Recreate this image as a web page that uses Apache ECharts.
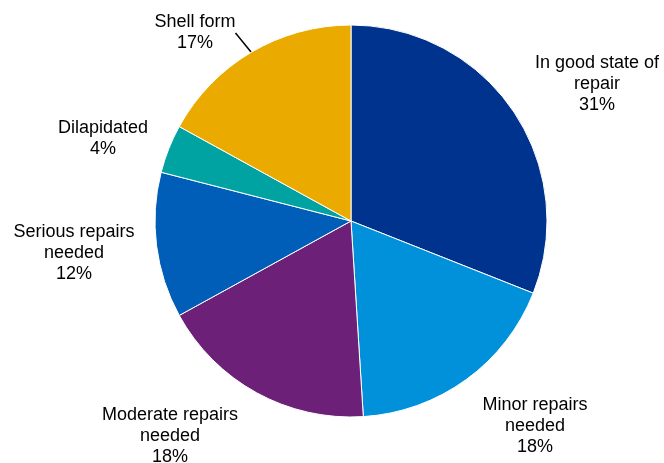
<!DOCTYPE html>
<html>
<head>
<meta charset="utf-8">
<script src="https://cdn.jsdelivr.net/npm/echarts@6/dist/echarts.min.js"></script>
<style>
  html, body { margin: 0; padding: 0; background: #fff; }
  #chart { width: 664px; height: 463px; }
</style>
</head>
<body>
<div id="chart"></div>
<script>
// condition of dwellings, share of stock
var categories = ['In good state of\nrepair', 'Minor repairs\nneeded', 'Moderate repairs\nneeded',
  'Serious repairs\nneeded', 'Dilapidated', 'Shell form'];
var shares = [31, 18, 18, 12, 4, 17];
var colors = ['#00338D', '#0091DA', '#6D2077', '#005EB8', '#00A3A1', '#EAAA00'];

// where each label sits (centre of text block), by slice order
var labelSpots = [[597, 84], [535, 426], [170, 436], [74, 253], [103, 139], [195, 33]];

var myChart = echarts.init(document.getElementById('chart'));
myChart.setOption({
  animation: false,
  series: [{
    type: 'pie',
    center: [351, 221],
    radius: 196,
    startAngle: 90,
    clockwise: true,
    data: categories.map(function (c, i) {
      return {
        name: c, value: shares[i],
        itemStyle: { color: colors[i] },
        labelLine: { show: i === 5 }
      };
    }),
    itemStyle: { borderColor: '#fff', borderWidth: 1 },
    label: {
      show: true,
      position: 'outside',
      formatter: '{b}\n{c}%',
      color: '#000',
      fontFamily: 'Liberation Sans, Arial, sans-serif',
      fontSize: 18,
      lineHeight: 21,
      align: 'center'
    },
    labelLine: { lineStyle: { color: '#000', width: 1.5 }, length: 8, length2: 0 },
    labelLayout: function (p) {
      var s = labelSpots[p.dataIndex];
      return { x: s[0], y: s[1], align: 'center', verticalAlign: 'middle' };
    },
    emphasis: { disabled: true }
  }]
});
</script>
</body>
</html>
